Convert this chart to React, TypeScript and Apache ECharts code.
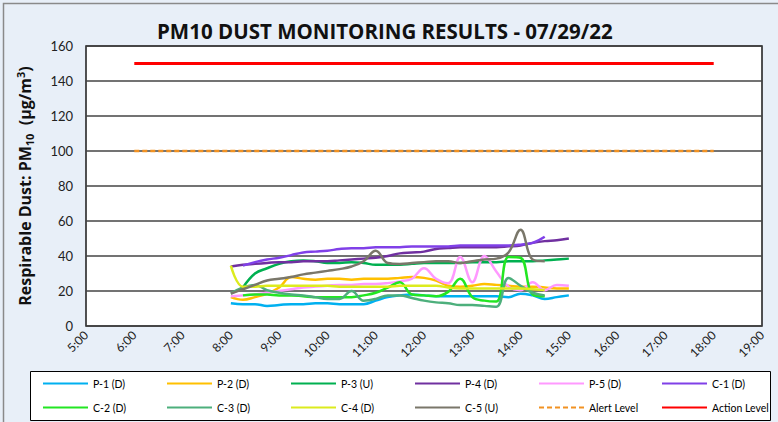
import React, { useEffect, useRef } from "react";
import * as echarts from "echarts";

const times = ["8:00","8:15","8:30","8:45","9:00","9:15","9:30","9:45","10:00","10:15","10:30","10:45","11:00","11:15","11:30","11:45","12:00","12:15","12:30","12:45","13:00","13:15","13:30","13:45","14:00","14:15","14:30","14:45","15:00"];

const p1 = [13, 12.5, 12.5, 11.5, 12, 12.5, 12.5, 13, 13, 12.5, 12.5, 12.5, 14.5, 16.5, 17.5, 18, 17.5, 17, 17, 17, 17, 17, 17, 16.5, 18.5, 17.5, 15.5, 16.5, 17.5];
const p2 = [16.5, 15, 16.5, 18.5, 22, 28, 27, 26.5, 27, 27, 26.5, 27, 27, 27, 27.5, 28, 27.5, 26, 23, 22.5, 23, 24, 23.5, 23, 22.5, 22.5, 22, 21.5, 21.5];
const p3 = [null, 22, 30, 33, 35.5, 37, 37.5, 37, 36, 36, 36.5, 36, 35, 35, 35, 35.5, 36, 36, 36, 36, 36.5, 36.5, 36.5, 37, 37, 37, 37.5, 38, 38.5];
const p4 = [34, 35, 35.5, 36, 36.5, 36.5, 37, 37, 37, 37.5, 38, 38.5, 39, 40, 41.5, 42, 42.5, 44, 44.5, 45, 45, 45, 45, 45.5, 46, 47.5, 48.5, 49, 50];
const p5 = [17, 17.5, 18, 19, 20, 21, 22, 22.5, 23, 23.5, 23.5, 24, 24, 24.5, 25.5, 27, 33, 27, 24.5, 39.5, 25, 40, 31, 22.5, 20.5, 25, 20.5, 23.5, 23];
const c1 = [null, 34.5, 36.5, 38, 39, 40.5, 42, 42.5, 43, 44, 44.5, 44.5, 45, 45, 45, 45.5, 45.5, 45.5, 45.5, 46, 46, 46, 46, 46, 46.5, 47.5, 51, null, null];
const c2 = [null, 17.5, 18, 18, 17.5, 17.5, 17, 16.5, 16.5, 16.5, 16.5, 17.5, 19, 22, 25, 18, 17.5, 17, 19.5, 27, 16.5, 14.5, 14, 39.5, 39, 18, 17, null, null];
const c3 = [18.5, 22, 23.5, 20.5, 19, 18, 17.5, 16.5, 15.5, 15.5, 20, 14.5, 15.5, 17.5, 17.5, 16, 14.5, 13.5, 13, 12, 12, 11.5, 11, 27.5, 23, 19, 17.5, null, null];
const c4 = [34.5, 22.5, 22.5, 23, 23, 23, 23, 23, 23, 22.5, 22.5, 22.5, 22.5, 22.5, 23, 23, 23, 23, 22, 21.5, 21.5, 21.5, 21.5, 21.5, 21.5, 21, 20.5, null, null];
const c5 = [18.5, 21, 23.5, 26, 27, 28, 29.5, 30.5, 31.5, 32.5, 34, 37, 43, 36, 35.5, 36, 36.5, 37, 37, 36, 37, 38, 38.5, 42, 55, 38, 37, null, null];

const limitTimes = ["6:00", "18:00"];
const alertLevel = [100, 100];
const actionLevel = [150, 150];

const seriesNames = ["P-1 (D)", "P-2 (D)", "P-3 (U)", "P-4 (D)", "P-5 (D)", "C-1 (D)", "C-2 (D)", "C-3 (D)", "C-4 (D)", "C-5 (U)"];
const seriesValues = [p1, p2, p3, p4, p5, c1, c2, c3, c4, c5];
const seriesColors = ["#00B0F0", "#FFC000", "#00B050", "#7030A0", "#FF99FF", "#8040E8", "#22E622", "#4DAF7C", "#DCEB1E", "#7A776A"];

const FONT = "Lato, 'Open Sans', sans-serif";
const WIDE = "'Open Sans', Lato, sans-serif";

const toHour = (t: string) => {
  const [h, m] = t.split(":").map(Number);
  return h + m / 60;
};

const pairs = (ts: string[], vals: (number | null)[]) =>
  ts.map((t, i) => [toHour(t), vals[i]]).filter((p) => p[1] !== null);

export default function App() {
  const ref = useRef<HTMLDivElement>(null);
  useEffect(() => {
    const chart = echarts.init(ref.current!, null, { renderer: "svg" });
    const lineSeries: any[] = seriesNames.map((name, i) => ({
      name,
      type: "line",
      data: pairs(times, seriesValues[i]),
      smooth: 0.4,
      symbol: "none",
      lineStyle: { color: seriesColors[i], width: 2.5 },
      itemStyle: { color: seriesColors[i] },
    }));
    lineSeries.push({
      name: "Alert Level",
      type: "line",
      data: pairs(limitTimes, alertLevel),
      symbol: "none",
      lineStyle: { color: "#F29222", width: 2.5, type: [5, 3] },
      itemStyle: { color: "#F29222" },
    });
    lineSeries.push({
      name: "Action Level",
      type: "line",
      data: pairs(limitTimes, actionLevel),
      symbol: "none",
      lineStyle: { color: "#FF0000", width: 3 },
      itemStyle: { color: "#FF0000" },
    });
    const legendNames = [...seriesNames, "Alert Level", "Action Level"];
    const colX = [42, 166, 290, 414, 538, 661];
    const rowY = [378, 402];
    const option: any = {
      animation: false,
      backgroundColor: "#E8EFF8",
      title: {
        text: "PM10 DUST MONITORING RESULTS - 07/29/22",
        left: 152,
        top: 15,
        textStyle: { fontFamily: WIDE, fontWeight: "bold", fontSize: 20.5, color: "#111" },
      },
      graphic: [
        {
          type: "rect",
          shape: { x: 3.5, y: 3.5, width: 790, height: 440 },
          style: { fill: "none", stroke: "#8a8a8a", lineWidth: 1.5 },
          silent: true,
        },
        {
          type: "rect",
          shape: { x: 30.5, y: 371.5, width: 740, height: 49 },
          style: { fill: "#ffffff", stroke: "#000", lineWidth: 1 },
          silent: true,
          z: -1,
        },
      ],
      legend: legendNames.map((n, i) => ({
        data: [n],
        left: colX[i % 6],
        top: rowY[Math.floor(i / 6)],
        padding: 0,
        itemWidth: 45,
        itemHeight: 12,
        itemGap: 5,
        selectedMode: false,
        itemStyle: { color: "rgba(0,0,0,0)", borderColor: "rgba(0,0,0,0)", borderWidth: 0 },
        textStyle: { fontFamily: FONT, fontSize: 10.5, color: "#000" },
      })),
      grid: {
        left: 86,
        right: 16,
        top: 46,
        bottom: 96,
        show: true,
        backgroundColor: "#ffffff",
        borderColor: "#1a1a1a",
        borderWidth: 1.5,
      },
      xAxis: {
        type: "value",
        min: 5,
        max: 19,
        interval: 1,
        axisLine: { show: false },
        axisTick: { show: false },
        splitLine: { show: false },
        axisLabel: {
          rotate: 45,
          margin: 7,
          fontFamily: FONT,
          fontSize: 12,
          color: "#222",
          formatter: (v: number) => `${v}:00`,
        },
      },
      yAxis: {
        type: "value",
        min: 0,
        max: 160,
        interval: 20,
        axisLine: { show: false },
        axisTick: { show: false },
        splitLine: { lineStyle: { color: "#444", width: 1.5 } },
        axisLabel: { margin: 13, fontFamily: FONT, fontSize: 13, color: "#222" },
        name: "{a|Respirable Dust: PM}{s|10}{a|  (µg/m}{p|3}{a|)}",
        nameLocation: "middle",
        nameRotate: 90,
        nameGap: 50,
        nameTextStyle: {
          rich: {
            a: { fontFamily: WIDE, fontWeight: "bold", fontSize: 16, color: "#111", lineHeight: 22, verticalAlign: "middle" },
            s: { fontFamily: WIDE, fontWeight: "bold", fontSize: 11, color: "#111", lineHeight: 22, verticalAlign: "bottom", padding: [0, 0, 1, 0] },
            p: { fontFamily: WIDE, fontWeight: "bold", fontSize: 11, color: "#111", lineHeight: 22, verticalAlign: "top", padding: [1, 0, 0, 0] },
          },
        },
      },
      series: lineSeries,
    };
    chart.setOption(option);
    return () => chart.dispose();
  }, []);
  return <div ref={ref} style={{ position: "fixed", left: 0, top: 0, width: 778, height: 422 }} />;
}
